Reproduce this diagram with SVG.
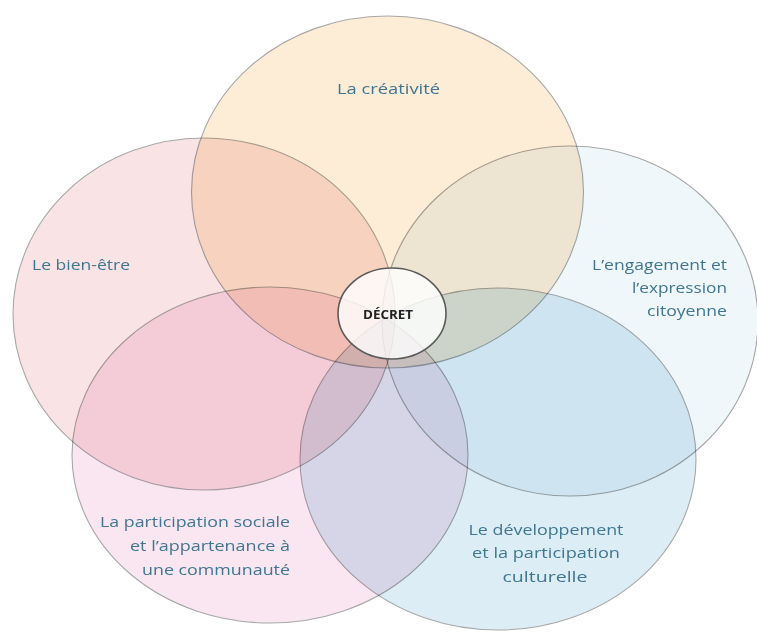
<svg xmlns="http://www.w3.org/2000/svg" width="757" height="632" viewBox="0 0 757 632">
<style>
.c{mix-blend-mode:multiply;stroke:#a8a8a8;stroke-width:1.1}
.t{font-family:"Open Sans","Liberation Sans",sans-serif;font-size:14.5px;fill:#3f7690}
.r{text-anchor:end}
.m{text-anchor:middle}
</style>
<rect width="757" height="632" fill="#ffffff"/>
<g id="creativite">
<ellipse class="c" cx="387.5" cy="192" rx="196" ry="176" fill="#fdecd6"/>
<text class="t" x="337" y="94" textLength="103" lengthAdjust="spacingAndGlyphs">La créativité</text>
</g>
<g id="bien-etre">
<ellipse class="c" cx="204" cy="314" rx="191" ry="176" fill="#f9e3e4"/>
<text class="t" x="32" y="270" textLength="98" lengthAdjust="spacingAndGlyphs">Le bien-être</text>
</g>
<g id="engagement">
<ellipse class="c" cx="570" cy="321" rx="188" ry="175" fill="#eff7fb"/>
<text class="t r" x="727" y="270" textLength="135" lengthAdjust="spacingAndGlyphs">L’engagement et</text>
<text class="t r" x="727" y="293" textLength="95" lengthAdjust="spacingAndGlyphs">l’expression</text>
<text class="t r" x="727" y="316" textLength="80" lengthAdjust="spacingAndGlyphs">citoyenne</text>
</g>
<g id="participation">
<ellipse class="c" cx="270" cy="455" rx="198" ry="168" fill="#f9e6f1"/>
<text class="t r" x="290" y="527" textLength="190" lengthAdjust="spacingAndGlyphs">La participation sociale</text>
<text class="t r" x="290" y="551" textLength="160" lengthAdjust="spacingAndGlyphs">et l’appartenance à</text>
<text class="t r" x="290" y="575" textLength="148" lengthAdjust="spacingAndGlyphs">une communauté</text>
</g>
<g id="developpement">
<ellipse class="c" cx="498" cy="459" rx="198" ry="171" fill="#dcedf5"/>
<text class="t m" x="546" y="535" textLength="155" lengthAdjust="spacingAndGlyphs">Le développement</text>
<text class="t m" x="546" y="558" textLength="148" lengthAdjust="spacingAndGlyphs">et la participation</text>
<text class="t m" x="545" y="582" textLength="85" lengthAdjust="spacingAndGlyphs">culturelle</text>
</g>
<g id="decret">
<ellipse cx="392" cy="313.5" rx="54" ry="45.5" fill="#ffffff" fill-opacity="0.8" stroke="#5a5a5a" stroke-width="1.6"/>
<text x="388" y="319" text-anchor="middle" font-family="'Open Sans','Liberation Sans',sans-serif" font-weight="bold" font-size="12" fill="#222222" textLength="50" lengthAdjust="spacingAndGlyphs">DÉCRET</text>
</g>
<g id="connectors"/>
</svg>
